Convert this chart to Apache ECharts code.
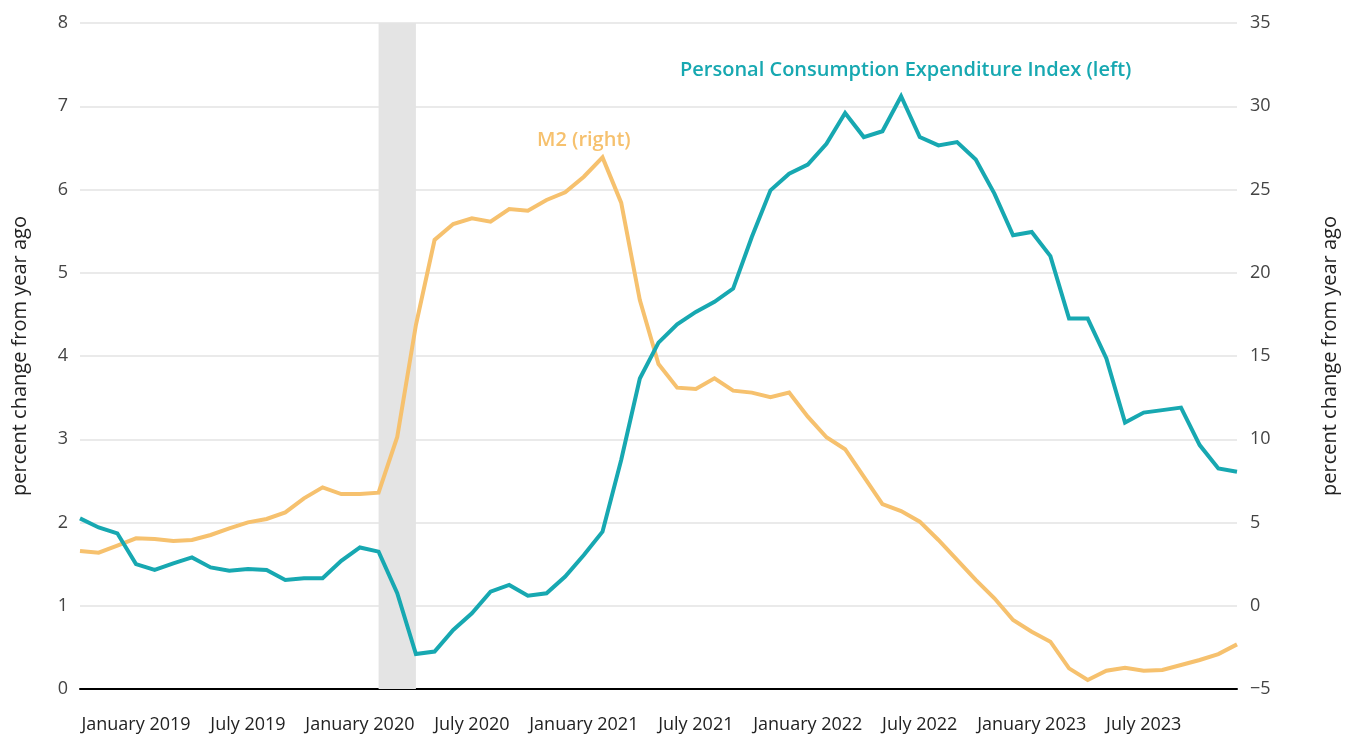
<!DOCTYPE html>
<html>
<head>
<meta charset="utf-8">
<script src="https://cdn.jsdelivr.net/npm/echarts@6/dist/echarts.min.js"></script>
<style>
html,body{margin:0;padding:0;background:#fff;}
#c{width:1351px;height:736px;}
</style>
</head>
<body>
<div id="c"></div>
<script>
const months = [
 "2018-10","2018-11","2018-12",
 "2019-01","2019-02","2019-03","2019-04","2019-05","2019-06","2019-07","2019-08","2019-09","2019-10","2019-11","2019-12",
 "2020-01","2020-02","2020-03","2020-04","2020-05","2020-06","2020-07","2020-08","2020-09","2020-10","2020-11","2020-12",
 "2021-01","2021-02","2021-03","2021-04","2021-05","2021-06","2021-07","2021-08","2021-09","2021-10","2021-11","2021-12",
 "2022-01","2022-02","2022-03","2022-04","2022-05","2022-06","2022-07","2022-08","2022-09","2022-10","2022-11","2022-12",
 "2023-01","2023-02","2023-03","2023-04","2023-05","2023-06","2023-07","2023-08","2023-09","2023-10","2023-11","2023-12"
];
const monthNames = ["January","February","March","April","May","June","July","August","September","October","November","December"];

// Personal Consumption Expenditure Index, % change from year ago (left axis)
const pce = [
 2.05,1.94,1.87,1.50,1.43,1.51,1.58,1.46,1.42,1.44,1.43,1.31,1.33,1.33,1.54,
 1.70,1.65,1.15,0.42,0.45,0.71,0.91,1.17,1.25,1.12,1.15,1.35,1.61,1.89,
 2.75,3.73,4.16,4.38,4.53,4.65,4.81,5.43,5.99,6.19,6.30,6.55,6.92,6.63,6.70,7.12,
 6.63,6.53,6.57,6.36,5.95,5.45,5.49,5.20,4.45,4.45,3.97,3.20,3.32,3.35,3.38,2.93,2.65,2.61
];
// M2, % change from year ago (right axis)
const m2 = [
 3.29,3.19,3.61,4.05,4.01,3.89,3.95,4.25,4.65,5.01,5.21,5.61,6.45,7.11,6.71,
 6.71,6.79,10.14,16.86,21.97,22.93,23.27,23.07,23.83,23.73,24.37,24.83,25.77,26.93,
 24.21,18.36,14.52,13.10,13.02,13.66,12.92,12.80,12.52,12.80,11.36,10.12,9.40,7.75,6.11,5.69,
 5.05,3.95,2.75,1.55,0.45,-0.86,-1.56,-2.16,-3.76,-4.46,-3.90,-3.72,-3.90,-3.86,-3.56,-3.26,-2.90,-2.32
];
const recessionStart = "2020-02";
const recessionEnd = "2020-04";
const leftTicks = {min:0, max:8, interval:1};
const rightTicks = {min:-5, max:35, interval:5};

const FONT = "'Open Sans', sans-serif";
const chart = echarts.init(document.getElementById('c'), null, {renderer:'canvas'});

function monthLabel(v){
  const [y,m] = v.split('-');
  return monthNames[parseInt(m,10)-1] + ' ' + y;
}

chart.setOption({
  animation:false,
  backgroundColor:'#fff',
  grid:{left:80, right:114, top:23, bottom:47, containLabel:false, outerBoundsMode:'none'},
  xAxis:{
    type:'category',
    data:months,
    boundaryGap:false,
    axisLine:{show:true, onZero:false, lineStyle:{color:'#000', width:2}},
    axisTick:{show:false},
    splitLine:{show:false},
    axisLabel:{
      interval:function(i,v){ const m=v.split('-')[1]; return m==='01'||m==='07'; },
      formatter:monthLabel,
      color:'#222', fontSize:18, fontFamily:FONT, margin:27
    }
  },
  yAxis:[
    {
      type:'value', position:'left',
      min:leftTicks.min, max:leftTicks.max, interval:leftTicks.interval,
      name:'percent change from year ago',
      nameLocation:'middle', nameGap:50, nameRotate:90,
      nameTextStyle:{color:'#222', fontSize:20, fontFamily:FONT},
      axisLine:{show:false}, axisTick:{show:false},
      axisLabel:{color:'#444', fontSize:18, fontFamily:FONT, margin:12},
      splitLine:{show:true, lineStyle:{color:'#e3e3e3', width:1.5}}
    },
    {
      type:'value', position:'right',
      min:rightTicks.min, max:rightTicks.max, interval:rightTicks.interval,
      name:'percent change from year ago',
      nameLocation:'middle', nameGap:83, nameRotate:90,
      nameTextStyle:{color:'#222', fontSize:20, fontFamily:FONT},
      axisLine:{show:false}, axisTick:{show:false},
      axisLabel:{color:'#444', fontSize:18, fontFamily:FONT, margin:13,
        formatter:function(v){ return String(v).replace('-', '\u2212'); }},
      splitLine:{show:false}
    }
  ],
  series:[
    {
      name:'M2 (right)', type:'line', yAxisIndex:1, data:m2,
      symbol:'none', smooth:false,
      lineStyle:{color:'#F6C16E', width:4, join:'miter'},
      z:3,
      markArea:{
        silent:true,
        itemStyle:{color:'#e4e4e4'},
        data:[[{xAxis:recessionStart},{xAxis:recessionEnd}]]
      }
    },
    {
      name:'Personal Consumption Expenditure Index (left)', type:'line', yAxisIndex:0, data:pce,
      symbol:'none', smooth:false,
      lineStyle:{color:'#17A8B1', width:4, join:'miter'},
      z:4
    }
  ],
  graphic:[
    {type:'text', left:537, top:130, style:{text:'M2 (right)', fill:'#F6C16E', font:"600 20px 'Open Sans', sans-serif"}},
    {type:'text', left:680, top:60, style:{text:'Personal Consumption Expenditure Index (left)', fill:'#17A8B1', font:"600 20px 'Open Sans', sans-serif"}}
  ]
});
</script>
</body>
</html>
